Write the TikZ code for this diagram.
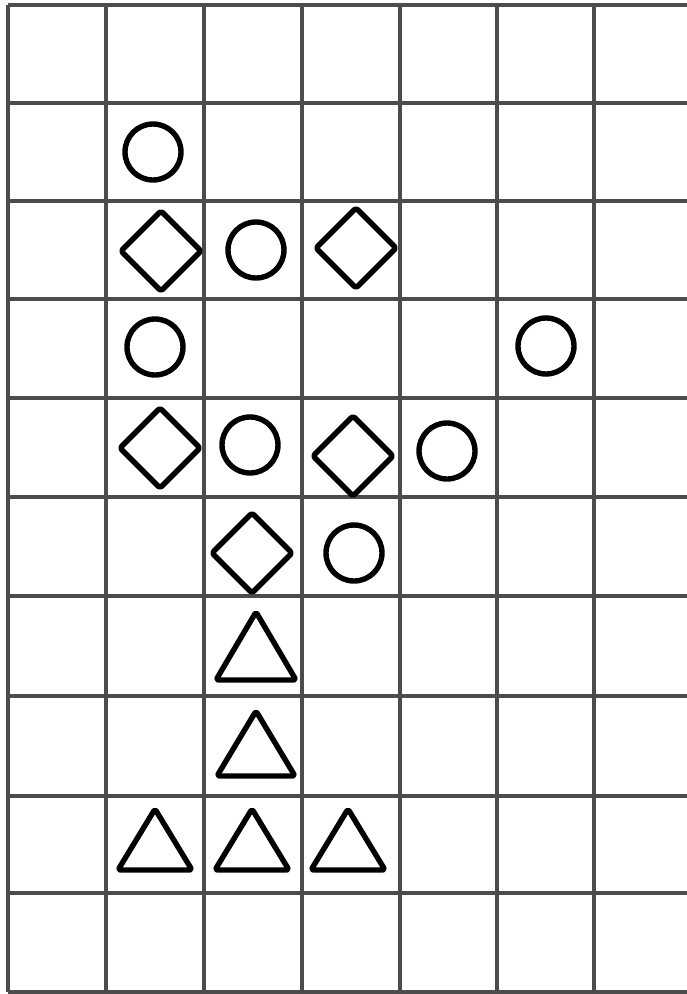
\documentclass[tikz,border=0pt]{standalone}
\begin{document}
\begin{tikzpicture}[x=1pt,y=-1pt,
  gridline/.style={line width=3.2pt,draw=black!70},
  shp/.style={line width=5.4pt,draw=black,line join=round,rounded corners=2.5pt}]
\useasboundingbox (0,0) rectangle (687,994);
\fill[white] (0,0) rectangle (687,994);
% grid
\foreach \x in {8,106,204,302,400,497,594}
  \draw[gridline] (\x,5) -- (\x,992);
\foreach \y in {5,103,201,299,398,497,596,696,796,893,992}
  \draw[gridline] (8,\y) -- (687,\y);
% circles
\foreach \cx/\cy in {153/152,256/250,155/347,546/346,250/445,447/451,354/553}
  \draw[shp] (\cx,\cy) circle[radius=28];
% diamonds
\foreach \cx/\cy in {161/251,356/248,160/448,353/456,252/553}
  \draw[shp] (\cx-40,\cy) -- (\cx,\cy-40) -- (\cx+40,\cy) -- (\cx,\cy+40) -- cycle;
% triangles
\foreach \cx/\ta/\tb/\hw in {256/612/680/40,256/711/776/39,155/809/870/37,252/809/870/37,348/809/870/37}
  \draw[shp] (\cx,\ta) -- (\cx+\hw,\tb) -- (\cx-\hw,\tb) -- cycle;
\end{tikzpicture}
\end{document}
